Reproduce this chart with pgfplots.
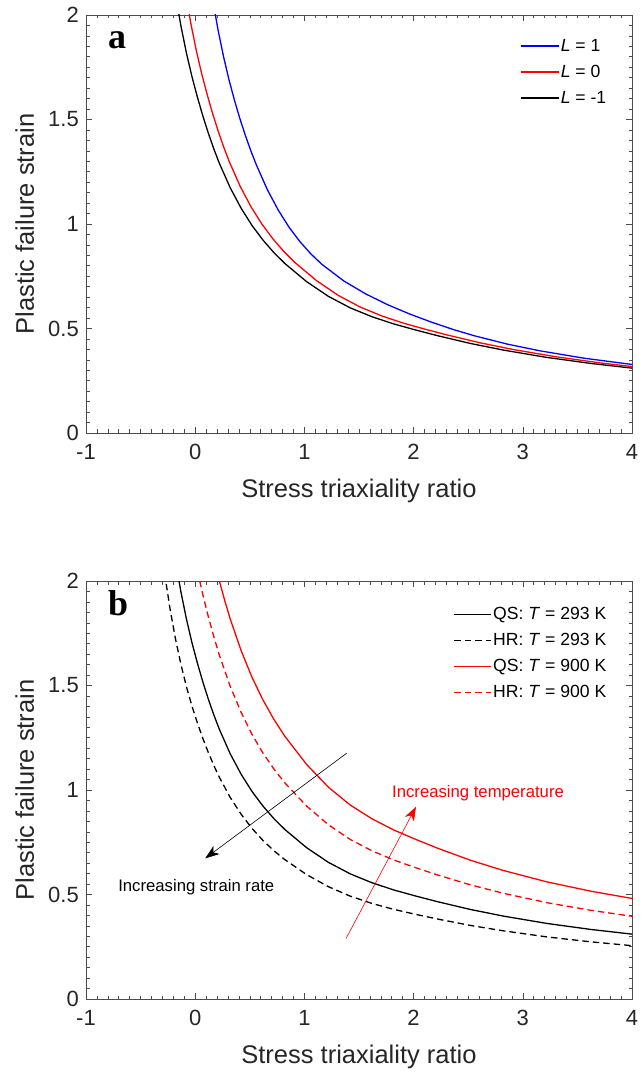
\documentclass[border=0pt]{standalone}
\usepackage{fontspec}
\setmainfont{Liberation Sans}
\newfontfamily\timesfont{Liberation Serif}
\usepackage{pgfplots}
\pgfplotsset{compat=1.18}
\usetikzlibrary{arrows.meta}
\definecolor{axgray}{gray}{0.15}
\definecolor{tickgray}{gray}{0.3}
\definecolor{mblue}{rgb}{0,0,1}
\definecolor{mred}{rgb}{1,0,0}

\pgfplotsset{
  matstyle/.style={
    scale only axis, width=546pt, height=418pt,
    xmin=-1, xmax=4, ymin=0, ymax=2,
    xtick={-1,0,1,2,3,4}, ytick={0,0.5,1,1.5,2},
    minor x tick num=9, minor y tick num=9,
    tick align=inside,
    major tick length=6pt, minor tick length=3.5pt,
    axis line style={tickgray, line width=0.8pt},
    every tick/.style={tickgray, line width=0.6pt},
    tick label style={font=\fontsize{22}{24}\selectfont, text=axgray, inner sep=1pt},
    xticklabel style={yshift=-10pt},
    yticklabel style={xshift=-6pt},
    /pgf/number format/assume math mode=true,
    label style={font=\fontsize{25.5}{28}\selectfont, text=axgray},
    xlabel={Stress triaxiality ratio}, ylabel={Plastic failure strain},
    x label style={at={(axis description cs:0.5,-0.138)}, anchor=center},
    y label style={at={(axis description cs:-0.1123,0.5)}, anchor=center},
    legend cell align=left,
    legend style={draw=none, fill=none, anchor=north east, inner sep=0pt,
      row sep=8pt, font=\fontsize{17.6}{21}\selectfont,
      nodes={inner sep=1.5pt, text height=13pt, text depth=2pt}},
  }
}

\begin{document}
\begin{tikzpicture}
\useasboundingbox (-86pt,-642pt) rectangle (555pt,433pt);

% ---------------- panel a ----------------
\begin{axis}[matstyle, at={(0pt,0pt)}, anchor=south west,
  legend style={at={(0.956,0.948)}},
  legend image code/.code={\draw[#1] (0pt,0pt) -- (38pt,0pt);}]
\addplot[draw=mblue, line width=1.3pt] coordinates {
(0.16,2.0736) (0.21,1.9264) (0.26,1.7995) (0.31,1.6887) (0.36,1.5914)
(0.41,1.5030) (0.46,1.4228) (0.51,1.3496) (0.56,1.2830) (0.66,1.1651)
(0.76,1.0669) (0.86,0.9840) (0.96,0.9149) (1.06,0.8566) (1.16,0.8071)
(1.36,0.7277) (1.56,0.6659) (1.76,0.6144) (1.96,0.5702) (2.16,0.5311)
(2.36,0.4956) (2.56,0.4647) (2.86,0.4251) (3.16,0.3929) (3.56,0.3580)
(3.96,0.3306) (4.36,0.3061)};
\addlegendentry{\textit{L} = 1}
\addplot[draw=mred, line width=1.3pt] coordinates {
(-0.09,2.1087) (-0.04,1.9596) (0.01,1.8302) (0.06,1.7175) (0.11,1.6186)
(0.16,1.5277) (0.21,1.4451) (0.26,1.3697) (0.31,1.3010) (0.41,1.1822)
(0.51,1.0834) (0.61,1.0002) (0.71,0.9299) (0.81,0.8695) (0.91,0.8172)
(1.11,0.7293) (1.31,0.6584) (1.51,0.6029) (1.71,0.5599) (1.91,0.5252)
(2.11,0.4960) (2.31,0.4688) (2.61,0.4314) (2.91,0.3997) (3.31,0.3641)
(3.71,0.3353) (4.11,0.3114)};
\addlegendentry{\textit{L} = 0}
\addplot[draw=black, line width=1.3pt] coordinates {
(-0.18,2.0940) (-0.13,1.9460) (-0.08,1.8175) (-0.03,1.7056) (0.02,1.6073)
(0.07,1.5171) (0.12,1.4351) (0.17,1.3602) (0.22,1.2920) (0.32,1.1740)
(0.42,1.0759) (0.52,0.9932) (0.62,0.9234) (0.72,0.8635) (0.82,0.8115)
(1.02,0.7242) (1.22,0.6538) (1.42,0.5987) (1.62,0.5560) (1.82,0.5215)
(2.02,0.4926) (2.22,0.4655) (2.52,0.4284) (2.82,0.3969) (3.22,0.3616)
(3.62,0.3330) (4.02,0.3092)};
\addlegendentry{\textit{L} = -1}
\node[anchor=base west, inner sep=0pt, font=\timesfont\bfseries\fontsize{36}{40}\selectfont]
  at (axis cs:-0.80,1.840) {a};
\end{axis}

% ---------------- panel b ----------------
\begin{axis}[matstyle, at={(0pt,-566pt)}, anchor=south west,
  legend style={at={(0.956,0.942)}},
  legend image code/.code={\draw[#1] (0pt,0pt) -- (37pt,0pt);}]
\addplot[draw=black, line width=1.3pt] coordinates {
(-0.18,2.0940) (-0.13,1.9460) (-0.08,1.8175) (-0.03,1.7056) (0.02,1.6073)
(0.07,1.5171) (0.12,1.4351) (0.17,1.3602) (0.22,1.2920) (0.32,1.1740)
(0.42,1.0759) (0.52,0.9932) (0.62,0.9234) (0.72,0.8635) (0.82,0.8115)
(1.02,0.7242) (1.22,0.6538) (1.42,0.5987) (1.62,0.5560) (1.82,0.5215)
(2.02,0.4926) (2.22,0.4655) (2.52,0.4284) (2.82,0.3969) (3.22,0.3616)
(3.62,0.3330) (4.02,0.3092)};
\addlegendentry{QS: \textit{T} = 293 K}
\addplot[draw=black, line width=1.3pt, dash pattern=on 6.5pt off 4pt] coordinates {
(-0.28,2.0359) (-0.23,1.8650) (-0.18,1.7213) (-0.13,1.5996) (-0.08,1.4940)
(-0.03,1.4020) (0.02,1.3212) (0.07,1.2471) (0.12,1.1797) (0.17,1.1181)
(0.22,1.0620) (0.32,0.9650) (0.42,0.8844) (0.52,0.8164) (0.62,0.7590)
(0.72,0.7098) (0.82,0.6671) (1.02,0.5953) (1.22,0.5374) (1.42,0.4921)
(1.62,0.4570) (1.82,0.4287) (2.02,0.4049) (2.22,0.3826) (2.52,0.3521)
(2.82,0.3263) (3.22,0.2972) (3.62,0.2737) (4.02,0.2542)};
\addlegendentry{HR: \textit{T} = 293 K}
\addplot[draw=mred, line width=1.3pt] coordinates {
(0.17,2.1083) (0.22,2.0026) (0.27,1.9073) (0.32,1.8197) (0.42,1.6676)
(0.52,1.5395) (0.62,1.4313) (0.72,1.3384) (0.82,1.2578) (1.02,1.1225)
(1.22,1.0134) (1.42,0.9280) (1.62,0.8618) (1.82,0.8083) (2.02,0.7635)
(2.22,0.7215) (2.52,0.6640) (2.82,0.6152) (3.22,0.5605) (3.62,0.5162)
(4.02,0.4793)};
\addlegendentry{QS: \textit{T} = 900 K}
\addplot[draw=mred, line width=1.3pt, dash pattern=on 6.5pt off 4pt] coordinates {
(0.02,2.0493) (0.07,1.9343) (0.12,1.8298) (0.17,1.7343) (0.22,1.6473)
(0.32,1.4969) (0.42,1.3718) (0.52,1.2663) (0.62,1.1773) (0.72,1.1010)
(0.82,1.0347) (1.02,0.9234) (1.22,0.8336) (1.42,0.7633) (1.62,0.7089)
(1.82,0.6649) (2.02,0.6281) (2.22,0.5935) (2.52,0.5462) (2.82,0.5060)
(3.22,0.4610) (3.62,0.4246) (4.02,0.3942)};
\addlegendentry{HR: \textit{T} = 900 K}
% annotation arrows
\addplot[draw=black, line width=0.6pt, forget plot, -{Stealth[length=14pt,width=10pt,inset=4pt]}]
  coordinates {(1.387,1.176) (0.092,0.673)};
\addplot[draw=mred, line width=0.6pt, forget plot, -{Stealth[length=14pt,width=10pt,inset=4pt]}]
  coordinates {(1.382,0.290) (2.022,0.920)};
\node[anchor=base, inner sep=0pt, text=mred, font=\fontsize{16.7}{20}\selectfont]
  at (axis cs:2.59,0.965) {Increasing temperature};
\node[anchor=base, inner sep=0pt, text=black, font=\fontsize{16.7}{20}\selectfont]
  at (axis cs:0.01,0.513) {Increasing strain rate};
\node[anchor=base west, inner sep=0pt, font=\timesfont\bfseries\fontsize{36}{40}\selectfont]
  at (axis cs:-0.80,1.834) {b};
\end{axis}
\end{tikzpicture}
\end{document}
